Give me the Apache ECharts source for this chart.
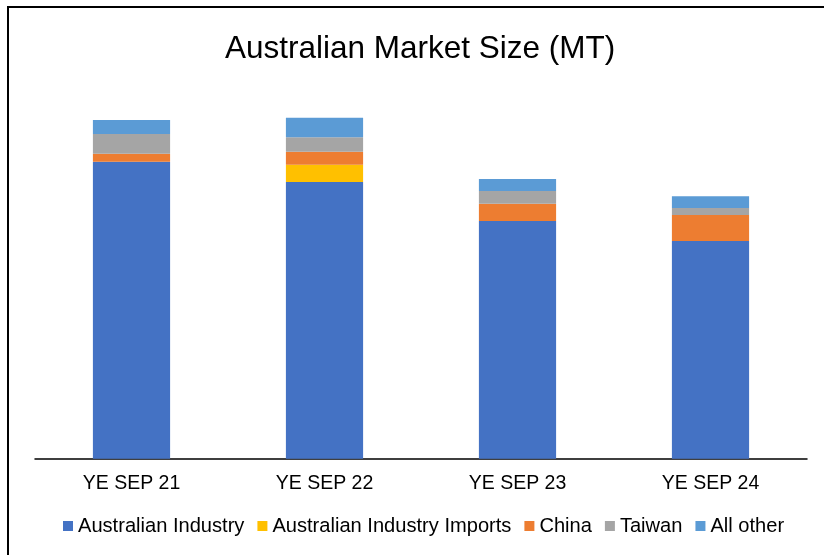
<!DOCTYPE html>
<html>
<head>
<meta charset="utf-8">
<script src="https://cdn.jsdelivr.net/npm/echarts@6/dist/echarts.min.js"></script>
<style>
  html, body { margin: 0; padding: 0; background: #fff; }
  #chart { width: 824px; height: 555px; }
</style>
</head>
<body>
<div id="chart"></div>
<script>
// Market volumes by year ending September (stacked by source)
const categories = ['YE SEP 21', 'YE SEP 22', 'YE SEP 23', 'YE SEP 24'];
const australianIndustry = [297, 276.7, 237.7, 217.7];
const australianIndustryImports = [0, 17.3, 0, 0];
const china = [8, 13, 17.3, 26];
const taiwan = [19.7, 14.4, 12.7, 7];
const allOther = [14, 19.6, 12, 11.7];

const seriesDefs = [
  { name: 'Australian Industry', data: australianIndustry, color: '#4472C4' },
  { name: 'Australian Industry Imports', data: australianIndustryImports, color: '#FFC000' },
  { name: 'China', data: china, color: '#ED7D31' },
  { name: 'Taiwan', data: taiwan, color: '#A5A5A5' },
  { name: 'All other', data: allOther, color: '#5B9BD5' }
];

const font = 'Liberation Sans, Arial, sans-serif';
const chart = echarts.init(document.getElementById('chart'), null, { renderer: 'canvas' });

chart.setOption({
  animation: false,
  backgroundColor: '#ffffff',
  title: {
    text: 'Australian Market Size (MT)',
    left: 225,
    top: 34,
    padding: 0,
    textStyle: { fontFamily: font, fontSize: 31.5, fontWeight: 'normal', color: '#000000', lineHeight: 31 }
  },
  legend: {
    left: 63,
    top: 516,
    padding: 0,
    itemWidth: 10,
    itemHeight: 10,
    itemGap: 13,
    icon: 'rect',
    textStyle: { fontFamily: font, fontSize: 20.1, color: '#000000' },
    data: seriesDefs.map(s => s.name)
  },
  grid: { left: 35, right: 17, top: 98.7, bottom: 96.3, containLabel: false },
  xAxis: {
    type: 'category',
    data: categories,
    axisLine: { lineStyle: { color: '#000000', width: 1.5 } },
    axisTick: { show: false },
    axisLabel: { fontFamily: font, fontSize: 19.5, color: '#000000', margin: 15 }
  },
  yAxis: {
    type: 'value',
    min: 0,
    max: 360,
    show: false,
    splitLine: { show: false }
  },
  graphic: [{
    type: 'rect',
    shape: { x: 8, y: 7, width: 840, height: 600 },
    style: { fill: 'none', stroke: '#000000', lineWidth: 2 },
    silent: true
  }],
  series: seriesDefs.map(s => ({
    name: s.name,
    type: 'bar',
    stack: 'total',
    barWidth: '40%',
    data: s.data,
    itemStyle: { color: s.color }
  }))
});
</script>
</body>
</html>
